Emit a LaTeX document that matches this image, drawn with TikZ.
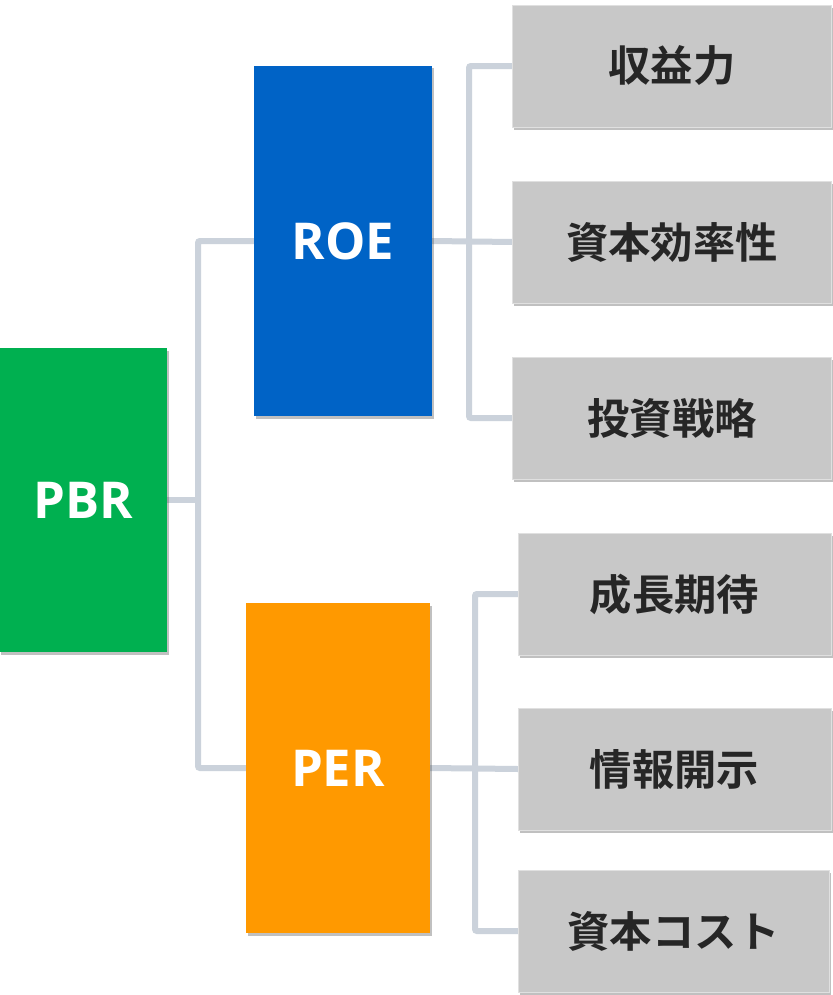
\documentclass[tikz,border=0pt]{standalone}
\usepackage{fontspec}
\setmainfont{Open Sans}
\newfontfamily\jp{Noto Sans CJK JP}[BoldFont={Noto Sans CJK JP Bold}]
\usetikzlibrary{shadows,backgrounds}
\definecolor{cgreen}{HTML}{00B050}
\definecolor{cblue}{HTML}{0063C6}
\definecolor{corange}{HTML}{FF9900}
\definecolor{cgray}{HTML}{C8C8C8}
\definecolor{cline}{HTML}{CBD2DB}
\definecolor{ctext}{HTML}{262626}
\tikzset{
  x=1bp, y=-1bp,
  shadowed/.style={drop shadow={shadow xshift=1.5bp, shadow yshift=-2.5bp, opacity=0.35, fill=black!70}},
  mainbox/.style={shadowed, inner sep=0, outer sep=0, text=white, font=\fontsize{51}{51}\selectfont\bfseries},
  subbox/.style={shadowed, fill=cgray, draw=black!12, line width=0.8bp, inner sep=0, outer sep=0, minimum width=315bp, minimum height=122bp, text=ctext, font=\jp\fontsize{42.5}{42.5}\selectfont\bfseries},
  conn/.style={draw=cline, line width=6bp, rounded corners=2bp}
}
\begin{document}
\begin{tikzpicture}
\useasboundingbox (0,0) rectangle (833,995);
\coordinate (j1) at (198,500);
\coordinate (j2) at (469,241);
\coordinate (j3) at (475,769);
\path
  (83.5,500) node[mainbox, fill=cgreen, minimum width=167bp, minimum height=304bp] (pbr) {PBR}
  (343,241) node[mainbox, fill=cblue, minimum width=178bp, minimum height=350bp] (roe) {ROE}
  (338,768) node[mainbox, fill=corange, minimum width=184bp, minimum height=330bp] (per) {PER}
  (672,66) node[subbox, minimum width=319bp] (g1) {収益力}
  (672,242) node[subbox, minimum width=319bp] (g2) {資本効率性}
  (672,418) node[subbox, minimum width=319bp] (g3) {投資戦略}
  (674.5,594) node[subbox, minimum width=313bp] (g4) {成長期待}
  (674.5,769) node[subbox, minimum width=313bp] (g5) {情報開示}
  (673.5,931) node[subbox, minimum width=311bp] (g6) {資本コスト};
\begin{pgfonlayer}{background}
\fill[white] (0,0) rectangle (833,995);
\draw[conn] (pbr.east) -- (j1);
\draw[conn] (roe.west) -| (j1) |- (per.west);
\draw[conn] (roe.east) -- (g2.west);
\draw[conn] (g1.west) -| (j2 |- g3.west) -- (g3.west);
\draw[conn] (per.east) -- (g5.west);
\draw[conn] (g4.west) -| (j3 |- g6.west) -- (g6.west);
\end{pgfonlayer}
\end{tikzpicture}
\end{document}
